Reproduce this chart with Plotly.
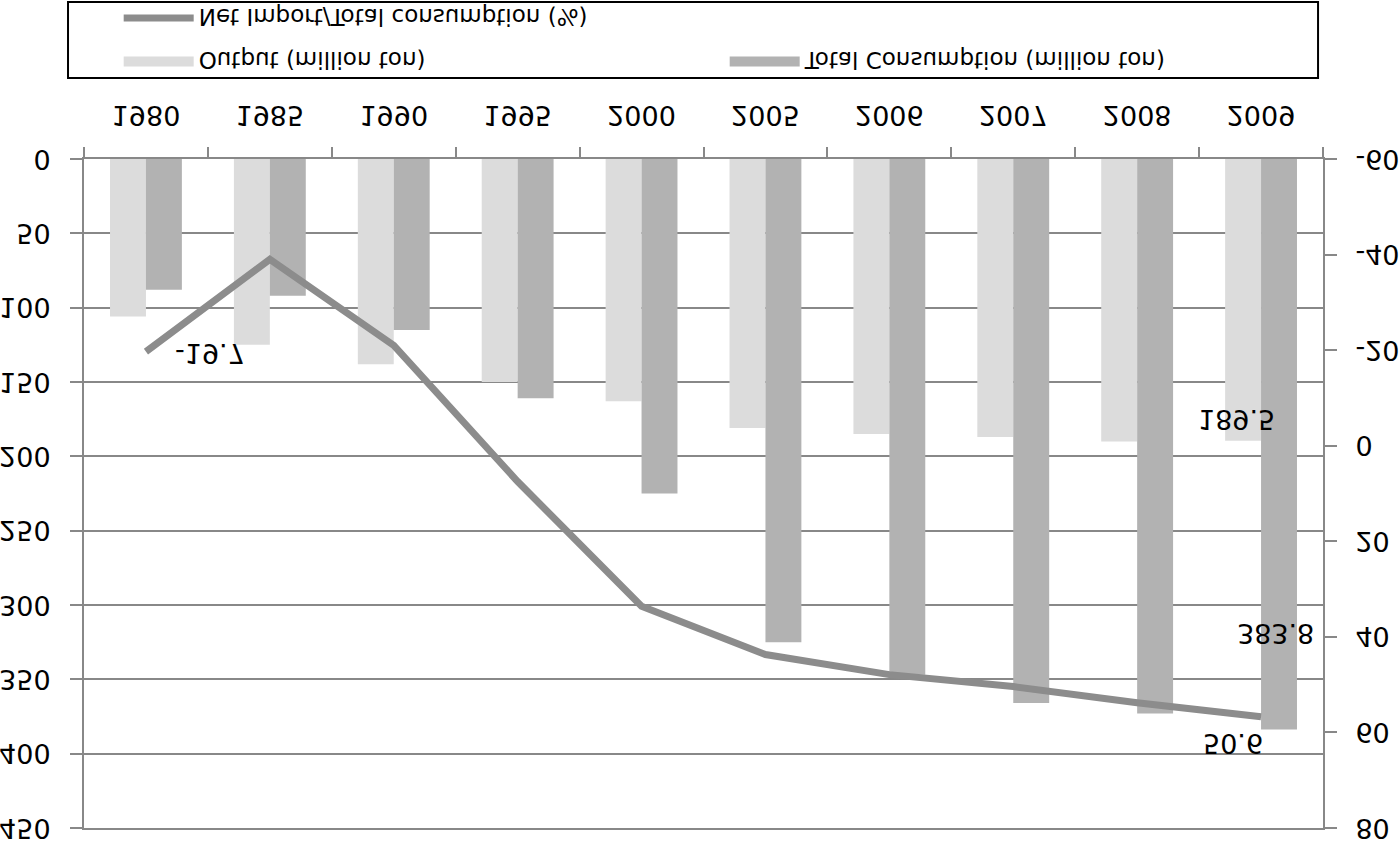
import plotly.graph_objects as go

# ---- data ----
years = ['1980', '1985', '1990', '1995', '2000', '2005', '2006', '2007', '2008', '2009']
output_mt = [106, 125, 138, 150, 163, 181, 185, 187, 190, 189.5]
consumption_mt = [88, 92, 115, 161, 225, 325, 347, 366, 373, 383.8]
net_import_pct = [-19.7, -39, -21, 7.5, 33.6, 43.7, 47.9, 50.4, 53.8, 56.7]
net_import_labels = ['-19.7', '', '', '', '', '', '', '', '', '50.6']
output_labels = ['', '', '', '', '', '', '', '', '', '189.5']
consumption_labels = ['', '', '', '', '', '', '', '', '', '383.8']
left_ticks = [0, 50, 100, 150, 200, 250, 300, 350, 400, 450]
right_ticks = [-60, -40, -20, 0, 20, 40, 60, 80]

name_output = 'Output (million ton)'
name_cons = 'Total Consumption (million ton)'
name_net = 'Net Import/Total consumption (%)'

GRID = '#888888'
FONT = 'DejaVu Sans'
C_OUT = '#dcdcdc'
C_CONS = '#b2b2b2'
C_LINE = '#8c8c8c'

fig = go.Figure()
fig.add_trace(go.Bar(x=years, y=output_mt, name=name_output, showlegend=False,
                     marker=dict(color=C_OUT, line=dict(width=0))))
fig.add_trace(go.Bar(x=years, y=consumption_mt, name=name_cons, showlegend=False,
                     marker=dict(color=C_CONS, line=dict(width=0))))
fig.add_trace(go.Scatter(x=years, y=net_import_pct, name=name_net, yaxis='y2',
                         mode='lines', line=dict(color=C_LINE, width=7),
                         legend='legend2'))
# legend-only swatches for the bars (wide rectangles like the original)
fig.add_trace(go.Scatter(x=[None], y=[None], name=name_output, mode='lines',
                         line=dict(color=C_OUT, width=18), legend='legend'))
fig.add_trace(go.Scatter(x=[None], y=[None], name=name_cons, mode='lines',
                         line=dict(color=C_CONS, width=18), legend='legend'))

annotations = []
for i, t in enumerate(net_import_labels):
    if not t:
        continue
    if i == 0:
        annotations.append(dict(x=i, y=net_import_pct[i], yref='y2', text=t,
                                showarrow=False, xanchor='left', yanchor='middle',
                                xshift=27, yshift=2))
    else:
        annotations.append(dict(x=i, y=net_import_pct[i], yref='y2', text=t,
                                showarrow=False, xanchor='right', yanchor='middle',
                                xshift=4, yshift=27))
for i, t in enumerate(output_labels):
    if t:
        annotations.append(dict(x=i, y=output_mt[i], yref='y', text=t,
                                showarrow=False, xanchor='center', yanchor='middle',
                                xshift=-25, yshift=-21))
for i, t in enumerate(consumption_labels):
    if t:
        annotations.append(dict(x=i, y=consumption_mt[i], yref='y', text=t,
                                showarrow=False, xanchor='center', yanchor='middle',
                                xshift=14, yshift=-96))

fig.update_layout(
    width=1400, height=841,
    margin=dict(l=84, r=77, t=13, b=159, autoexpand=False),
    plot_bgcolor='white', paper_bgcolor='white',
    barmode='group', bargap=0.42, bargroupgap=0,
    font=dict(family=FONT, size=27, color='black'),
    annotations=annotations,
    xaxis=dict(type='category', range=[-0.5, len(years) - 0.5],
               showline=True, mirror=True, linecolor=GRID, linewidth=2,
               ticks='outside', tickson='boundaries', ticklen=10, tickcolor=GRID,
               tickwidth=2, showgrid=False, ticklabelstandoff=19, automargin=False),
    yaxis=dict(range=[0, 450], tickvals=left_ticks, ticktext=[str(v) for v in left_ticks],
               showline=True, linecolor=GRID, linewidth=2,
               ticks='outside', ticklen=12, tickcolor=GRID, tickwidth=2,
               showgrid=True, gridcolor=GRID, gridwidth=2, zeroline=False,
               ticklabelstandoff=14, automargin=False, ticklabeloverflow='allow'),
    yaxis2=dict(range=[-60, 80], tickvals=right_ticks, ticktext=[str(v) for v in right_ticks],
                overlaying='y', side='right',
                showline=True, linecolor=GRID, linewidth=2,
                ticks='outside', ticklen=12, tickcolor=GRID, tickwidth=2,
                showgrid=False, zeroline=False, ticklabelstandoff=13, automargin=False,
                ticklabeloverflow='allow'),
    legend=dict(orientation='h', x=0.028, xanchor='left', y=-0.146, yanchor='middle',
                borderwidth=0, bgcolor='rgba(0,0,0,0)', font=dict(size=23),
                entrywidth=521, entrywidthmode='pixels', itemwidth=70,
                traceorder='normal'),
    legend2=dict(orientation='h', x=0.028, xanchor='left', y=-0.211, yanchor='middle',
                 borderwidth=0, bgcolor='rgba(0,0,0,0)', font=dict(size=23),
                 itemwidth=70),
    shapes=[dict(type='rect', xref='paper', yref='paper',
                 x0=-0.0129, x1=0.996, y0=-0.2347, y1=-0.1211,
                 line=dict(color='black', width=2), fillcolor='rgba(0,0,0,0)')],
    showlegend=True,
)

post = ("document.body.style.margin='0';document.body.style.overflow='hidden';"
        "var gd=document.getElementById('{plot_id}');"
        "gd.style.transformOrigin='50% 50%';gd.style.transform='scaleY(-1)';")
fig.write_html("out.html", default_width='1400px', default_height='841px',
               post_script=post, config={'displayModeBar': False})
